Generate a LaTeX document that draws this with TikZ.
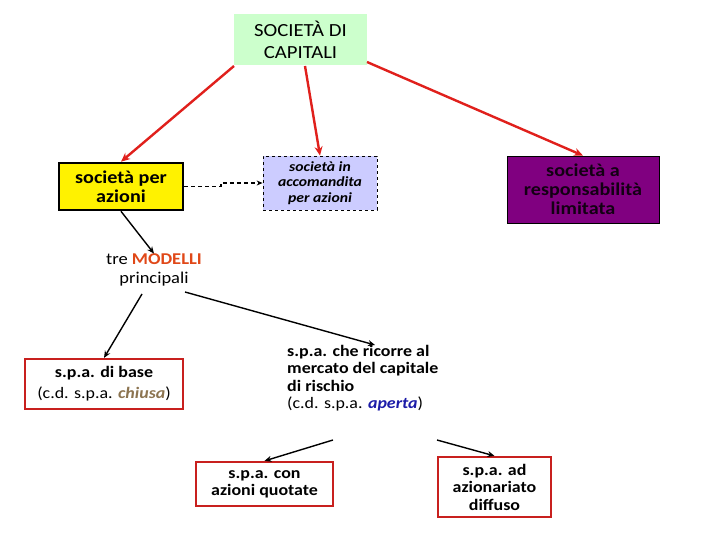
\documentclass[tikz,border=0pt]{standalone}
\usepackage{fontspec}
\setmainfont{Carlito}[FakeStretch=1.12]
\usetikzlibrary{arrows.meta}
\definecolor{topgreen}{HTML}{CCFFCC}
\definecolor{lav}{HTML}{CCCCFF}
\definecolor{purp}{HTML}{800080}
\definecolor{redline}{HTML}{E0201C}
\definecolor{boxred}{HTML}{C8201E}
\definecolor{modelli}{HTML}{E04818}
\definecolor{chiusa}{HTML}{8C7450}
\definecolor{aperta}{HTML}{1C1CA8}
\tikzset{
  every node/.style={inner sep=0pt, align=center},
  redarrow/.style={draw=redline, line width=2.4pt, -{Stealth[length=9pt,width=8pt]}},
  blackarrow/.style={draw=black, line width=1.4pt, -{Stealth[length=7pt,width=6pt]}},
  redbox/.style={draw=boxred, line width=2.2pt, fill=white},
}
\begin{document}
\begin{tikzpicture}[x=1pt,y=-1pt]
\useasboundingbox (0,0) rectangle (720,540);
% top
\node[fill=topgreen, minimum width=133pt, minimum height=51pt, font=\fontsize{18.5}{22}\selectfont] (top) at (300.5,39.5) {SOCIETÀ DI\\CAPITALI};
% spa
\node[fill=yellow, draw=black, line width=2.6pt, minimum width=124pt, minimum height=47pt, font=\fontsize{18}{19}\selectfont] (spa) at (121,186.5) {\textbf{società per}\\\textbf{azioni}};
% sapa
\node[fill=lav, draw=black, dashed, line width=0.8pt, minimum width=114pt, minimum height=54pt, font=\fontsize{14}{15.5}\selectfont] (sapa) at (320,183) {\textit{\textbf{società in}}\\\textit{\textbf{accomandita}}\\\textit{\textbf{per azioni}}};
% srl
\node[fill=purp, draw=black, line width=0.8pt, minimum width=152pt, minimum height=67pt, font=\fontsize{18}{19}\selectfont, text=black!85!purp] (srl) at (583,189.5) {\textbf{società a}\\\textbf{responsabilità}\\\textbf{limitata}};
% red arrows
\coordinate (t1) at (234,66);
\coordinate (t2) at (305,66);
\coordinate (t3) at (367,62);
\draw[redarrow] (t1) -- (spa.north);
\draw[redarrow] (t2) -- (sapa.north);
\draw[redarrow] (t3) -- (srl.north);
% dashed
\coordinate (k1) at (221,186.5);
\coordinate (k2) at (221,183);
\draw[line width=1.5pt, dash pattern=on 4pt off 3pt, -{Stealth[length=6pt,width=5pt]}] (spa.east) -- (k1) -- (k2) -- (sapa.west);
% modelli
\node[font=\fontsize{16.5}{19}\selectfont] (mod) at (154,270) {tre \textcolor{modelli}{\textbf{MODELLI}}\\principali};
\draw[blackarrow] (spa.south) -- (mod.north);
% base
\node[redbox, minimum width=158pt, minimum height=50pt, font=\fontsize{16}{21}\selectfont] (base) at (104,384) {\textbf{s.p.a. di base}\\(c.d. s.p.a. \textcolor{chiusa}{\textbf{\textit{chiusa}}})};
\node[font=\fontsize{16}{17.5}\selectfont, align=left, anchor=north west] (open) at (287,345) {\textbf{s.p.a. che ricorre al}\\\textbf{mercato del capitale}\\\textbf{di rischio}\\(c.d. s.p.a. \textcolor{aperta}{\textbf{\textit{aperta}}})};
\coordinate (m1) at (142,294);
\coordinate (m2) at (185,292);
\draw[blackarrow] (m1) -- (base.north);
\draw[blackarrow] (m2) -- (375,345);
% bottom
\node[redbox, minimum width=137pt, minimum height=44pt, font=\fontsize{16}{17}\selectfont] (quot) at (264.5,484) {\textbf{s.p.a. con}\\\textbf{azioni quotate}};
\node[redbox, minimum width=113pt, minimum height=60pt, font=\fontsize{16}{17.5}\selectfont] (diff) at (494.5,487) {\textbf{s.p.a. ad}\\\textbf{azionariato}\\\textbf{diffuso}};
\coordinate (o1) at (333,440);
\coordinate (o2) at (437,440);
\draw[blackarrow] (o1) -- (quot.north);
\draw[blackarrow] (o2) -- (diff.north);
\end{tikzpicture}
\end{document}
